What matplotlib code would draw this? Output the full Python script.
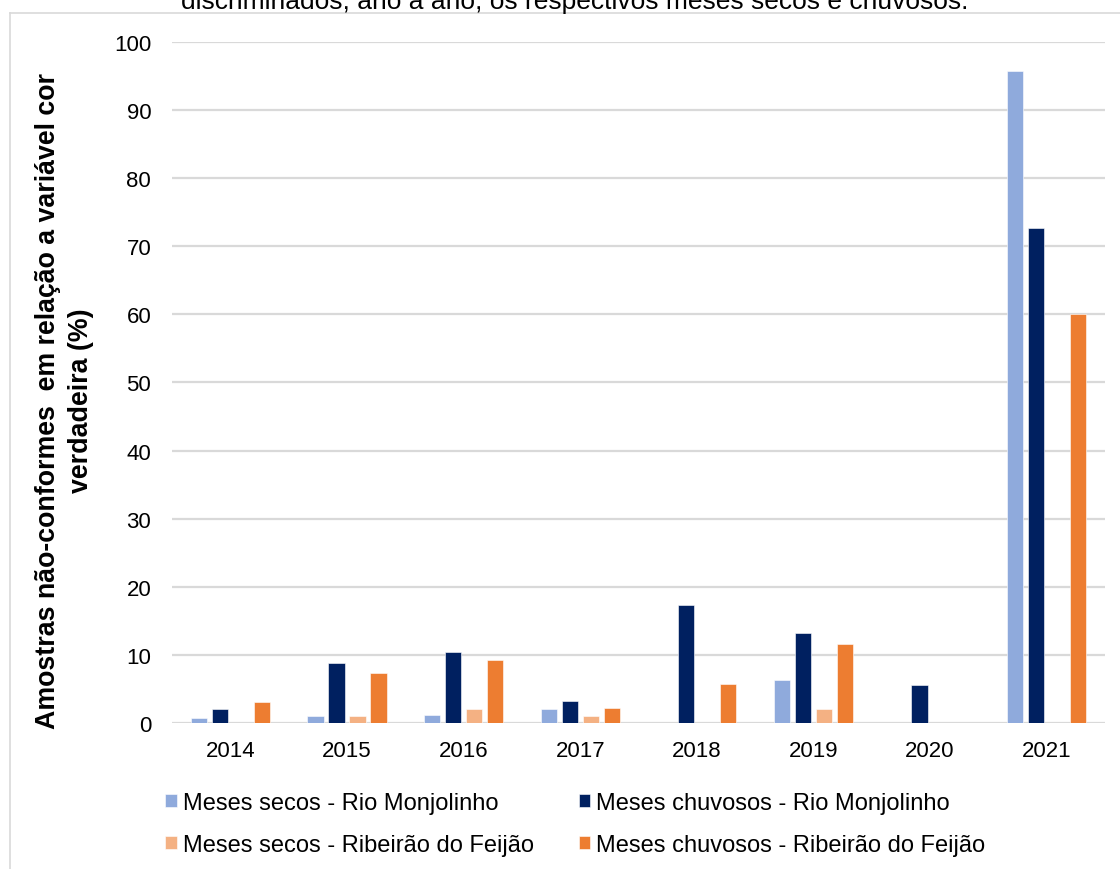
import numpy as np
import matplotlib.pyplot as plt
from matplotlib.lines import Line2D

plt.rcParams['font.family'] = ['Liberation Sans', 'DejaVu Sans']

anos = ['2014', '2015', '2016', '2017', '2018', '2019', '2020', '2021']
secos_monjolinho = [0.8, 1.0, 1.2, 2.1, 0.0, 6.3, 0.0, 95.8]
chuvosos_monjolinho = [2.1, 8.8, 10.5, 3.3, 17.3, 13.2, 5.6, 72.7]
secos_feijao = [0.0, 1.0, 2.1, 1.1, 0.0, 2.1, 0.0, 0.0]
chuvosos_feijao = [3.1, 7.4, 9.2, 2.2, 5.7, 11.6, 0.0, 60.0]

series = [
    (secos_monjolinho, 'Meses secos - Rio Monjolinho', '#8faadc'),
    (chuvosos_monjolinho, 'Meses chuvosos - Rio Monjolinho', '#002060'),
    (secos_feijao, 'Meses secos - Ribeirão do Feijão', '#f4b183'),
    (chuvosos_feijao, 'Meses chuvosos - Ribeirão do Feijão', '#ed7d31'),
]

fig = plt.figure(figsize=(11.2, 8.7), dpi=100)
ax = fig.add_axes([0.1536, 0.1678, 0.833, 0.7828])

x = np.arange(len(anos))
passo = 0.18
largura = 0.14
barras = []
for i, (vals, nome, cor) in enumerate(series):
    b = ax.bar(x + (i - 1.5) * passo, vals, largura, color=cor, label=nome,
               edgecolor='white', linewidth=0.4, zorder=3)
    barras.append(b)

ax.set_xlim(-0.5, len(anos) - 0.5)
ax.set_ylim(0, 100)
ax.set_yticks(range(0, 101, 10))
ax.set_xticks(x)
ax.set_xticklabels(anos)
ax.tick_params(axis='both', length=0, labelsize=16, colors='black')
ax.tick_params(axis='y', pad=15)
ax.tick_params(axis='x', pad=12)
ax.grid(axis='y', color='#d9d9d9', linewidth=1.6, zorder=0)
for s in ax.spines.values():
    s.set_visible(False)

fig.text(0.0575, 0.539,
         'Amostras não-conformes  em relação a variável cor\nverdadeira (%)',
         rotation=90, ha='center', va='center', multialignment='center',
         fontsize=19.3, fontweight='bold', linespacing=1.33)

# legenda em duas linhas (ordem por colunas)
ordem = [barras[0], barras[2], barras[1], barras[3]]
fig.legend(ordem, [h.get_label() for h in ordem], loc='upper left',
           bbox_to_anchor=(0.139, 0.0995), ncol=2, frameon=False,
           fontsize=17, handlelength=0.5, handleheight=0.5,
           handletextpad=0.25, labelspacing=0.85, columnspacing=1.9,
           borderaxespad=0)

# moldura da área do gráfico e legenda cortada acima
fig.add_artist(Line2D([10 / 1120, 10 / 1120], [0, 1 - 14 / 870],
                      transform=fig.transFigure, color='#d9d9d9', lw=1.2))
fig.add_artist(Line2D([10 / 1120, 1], [1 - 14 / 870, 1 - 14 / 870],
                      transform=fig.transFigure, color='#d9d9d9', lw=1.2))
fig.text(0.513, 1 - 9 / 870,
         'discriminados, ano a ano, os respectivos meses secos e chuvosos.',
         ha='center', va='baseline', fontsize=19)

fig.savefig('out.png', dpi=100)
